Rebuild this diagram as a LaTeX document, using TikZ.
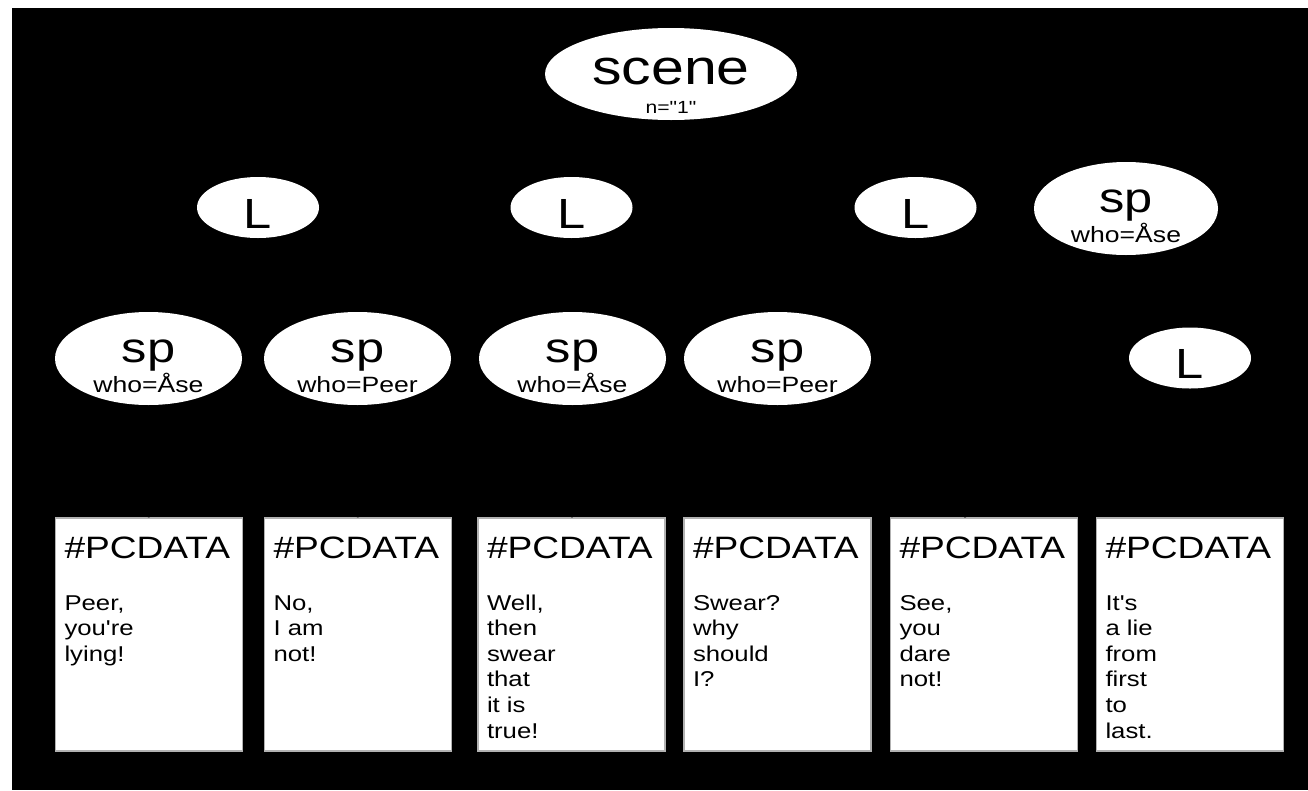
\documentclass[tikz,border=0pt]{standalone}
\usepackage{fontspec}
\setmainfont{Liberation Sans}[FakeStretch=1.2, Ligatures=TeXOff]
\usepackage{tikz}
\usetikzlibrary{shapes.geometric}

\tikzset{
  elem/.style={ellipse, fill=white, inner sep=0pt, align=center},
  lnode/.style={elem, minimum width=1.22cm, minimum height=0.61cm, font=\fontsize{12}{12}\selectfont, text height=4.1mm, text depth=0mm},
  spnode/.style={elem, minimum width=1.87cm, minimum height=0.93cm, font=\fontsize{6.3}{8.4}\selectfont, text height=6.7mm, text depth=0mm, inner ysep=-0.3mm},
  leaf/.style={rectangle, fill=white, draw=gray!60, line width=0.3pt, inner xsep=0.9mm, inner ysep=0pt},
  link/.style={draw=black, line width=0.5pt}
}
\newcommand{\pcdata}[1]{\parbox[c][23.3mm][t]{16.9mm}{\rule{0pt}{4mm}{\fontsize{8.8}{10}\selectfont\#PCDATA}\par\vspace{7.5pt}{\fontsize{6.1}{7.3}\selectfont #1\par}}}
\newcommand{\spwho}[1]{{\fontsize{12}{12}\selectfont sp}\\who=#1}

\begin{document}
\begin{tikzpicture}
  % Background
  \fill[white] (0,0) rectangle (13.08,7.90);
  \fill[black] (0.12,0) rectangle (13.08,7.82);
  \useasboundingbox (0,0) rectangle (13.08,7.90);
  % Root
  \node[elem, minimum width=2.52cm, minimum height=0.92cm, font=\fontsize{5}{8}\selectfont, text height=7.8mm, text depth=0mm, inner ysep=-2mm] (scene) at (6.71, 7.16) {{\fontsize{14}{14}\selectfont scene}\\n="1"};
  % Second row
  \node[lnode] (l1) at (2.58, 5.825) {L};
  \node[lnode] (l2) at (5.715, 5.825) {L};
  \node[lnode] (l3) at (9.155, 5.825) {L};
  \node[spnode, minimum width=1.84cm] (spa) at (11.26, 5.815) {\spwho{Åse}};
  % Third row
  \node[spnode] (sp1) at (1.485, 4.315) {\spwho{Åse}};
  \node[spnode] (sp2) at (3.575, 4.315) {\spwho{Peer}};
  \node[spnode] (sp3) at (5.725, 4.315) {\spwho{Åse}};
  \node[spnode] (sp4) at (7.775, 4.315) {\spwho{Peer}};
  \node[lnode] (l4) at (11.90, 4.32) {L};
  % Text leaves
  \node[leaf] (pc1) at (1.49, 1.555) {\pcdata{Peer,\\you're\\lying!}};
  \node[leaf] (pc2) at (3.58, 1.555) {\pcdata{No,\\I am\\not!}};
  \node[leaf] (pc3) at (5.715, 1.555) {\pcdata{Well,\\then\\swear\\that\\it is\\true!}};
  \node[leaf] (pc4) at (7.775, 1.555) {\pcdata{Swear?\\why\\should\\I?}};
  \node[leaf] (pc5) at (9.84, 1.555) {\pcdata{See,\\you\\dare\\not!}};
  \node[leaf] (pc6) at (11.90, 1.555) {\pcdata{It's\\a lie\\from\\first\\to\\last.}};
  % Links
  \draw[link] (scene) -- (l1);
  \draw[link] (scene) -- (l2);
  \draw[link] (scene) -- (l3);
  \draw[link] (scene) -- (spa);
  \draw[link] (l1) -- (sp1);
  \draw[link] (l1) -- (sp2);
  \draw[link] (l2) -- (sp3);
  \draw[link] (l2) -- (sp4);
  \draw[link] (spa) -- (l4);
  \draw[link] (sp1) -- (pc1);
  \draw[link] (sp2) -- (pc2);
  \draw[link] (sp3) -- (pc3);
  \draw[link] (sp4) -- (pc4);
  \draw[link] (l3) -- (pc5);
  \draw[link] (l4) -- (pc6);
\end{tikzpicture}
\end{document}
